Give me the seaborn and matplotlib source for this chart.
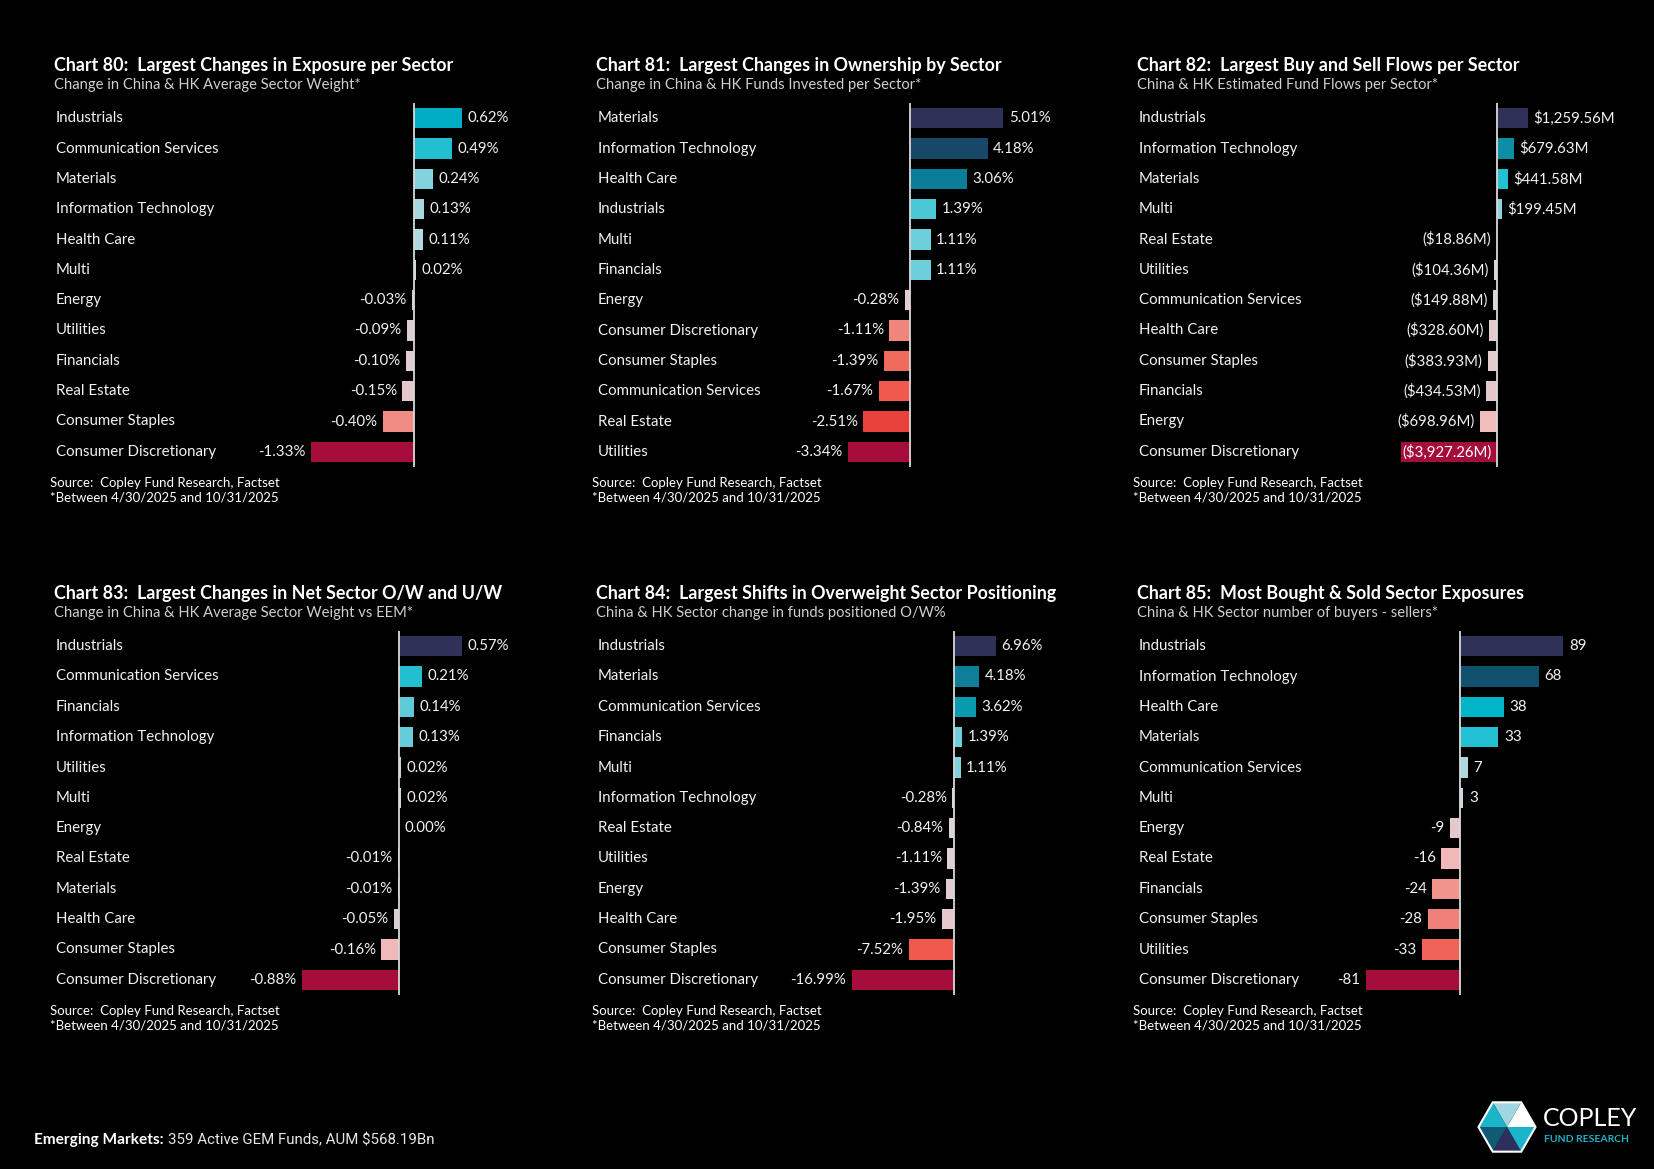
import numpy as np
import pandas as pd
import matplotlib.pyplot as plt
from matplotlib.patches import Polygon
import seaborn as sns

sns.set_theme(style="dark", rc={"axes.facecolor": "black", "figure.facecolor": "black",
                                "text.color": "white"})
plt.rcParams['font.family'] = ['Lato', 'DejaVu Sans']

W, H = 1654, 1169

# Chart 80
c80_sectors = ["Industrials", "Communication Services", "Materials", "Information Technology",
               "Health Care", "Multi", "Energy", "Utilities", "Financials", "Real Estate",
               "Consumer Staples", "Consumer Discretionary"]
c80_values = [0.62, 0.49, 0.24, 0.13, 0.11, 0.02, -0.03, -0.09, -0.10, -0.15, -0.40, -1.33]
c80_colors = ["#00adc3", "#22bfd0", "#84d2de", "#a9d7e0", "#b3dae2", "#c8dde2",
              "#d8d0d4", "#dccdd0", "#dfcdd0", "#e5c8ca", "#f08c84", "#a50d3a"]

# Chart 81
c81_sectors = ["Materials", "Information Technology", "Health Care", "Industrials", "Multi",
               "Financials", "Energy", "Consumer Discretionary", "Consumer Staples",
               "Communication Services", "Real Estate", "Utilities"]
c81_values = [5.01, 4.18, 3.06, 1.39, 1.11, 1.11, -0.28, -1.11, -1.39, -1.67, -2.51, -3.34]
c81_colors = ["#2e3158", "#17486a", "#0a7e98", "#4cc7d6", "#6ccfdb", "#6ccfdb",
              "#e2ccd0", "#f0857c", "#ef6b5c", "#ef5a4c", "#e8403a", "#a50e3a"]

# Chart 82
c82_sectors = ["Industrials", "Information Technology", "Materials", "Multi", "Real Estate",
               "Utilities", "Communication Services", "Health Care", "Consumer Staples",
               "Financials", "Energy", "Consumer Discretionary"]
c82_values = [1259.56, 679.63, 441.58, 199.45, -18.86, -104.36, -149.88, -328.60, -383.93,
              -434.53, -698.96, -3927.26]
c82_colors = ["#2e3158", "#0b8fa6", "#22c0d2", "#8fd3df", "#d4d8dc", "#d8d8dc",
              "#dcd4d8", "#e2ccd0", "#e4ccd0", "#e6c8cc", "#f0bcbc", "#a50e3a"]

# Chart 83
c83_sectors = ["Industrials", "Communication Services", "Financials", "Information Technology",
               "Utilities", "Multi", "Energy", "Real Estate", "Materials", "Health Care",
               "Consumer Staples", "Consumer Discretionary"]
c83_values = [0.57, 0.21, 0.14, 0.13, 0.02, 0.02, 0.00, -0.01, -0.01, -0.05, -0.16, -0.88]
c83_colors = ["#2e3158", "#22bfd0", "#5ecad8", "#66ccd9", "#b8d8e0", "#c0dce2",
              "#d0d8dc", "#d8d4d8", "#d8d4d8", "#dcd0d4", "#f0b8b8", "#a50e3a"]

# Chart 84
c84_sectors = ["Industrials", "Materials", "Communication Services", "Financials", "Multi",
               "Information Technology", "Real Estate", "Utilities", "Energy", "Health Care",
               "Consumer Staples", "Consumer Discretionary"]
c84_values = [6.96, 4.18, 3.62, 1.39, 1.11, -0.28, -0.84, -1.11, -1.39, -1.95, -7.52, -16.99]
c84_colors = ["#2e3158", "#0e7f96", "#0a9ab0", "#6ccfdb", "#80d2dd", "#d8d8dc",
              "#dcd4d8", "#e0d0d4", "#e2ccd0", "#e6c8cc", "#f05a4c", "#a50e3a"]

# Chart 85
c85_sectors = ["Industrials", "Information Technology", "Health Care", "Materials",
               "Communication Services", "Multi", "Energy", "Real Estate", "Financials",
               "Consumer Staples", "Utilities", "Consumer Discretionary"]
c85_values = [89, 68, 38, 33, 7, 3, -9, -16, -24, -28, -33, -81]
c85_colors = ["#2e3158", "#11506e", "#00b5c8", "#22c0d2", "#acd8e0", "#c4dce2",
              "#e6c8cc", "#f0b8b8", "#f0948c", "#f08078", "#ef6458", "#a50e3a"]


def fmt_pct(v):
    return f"{v:.2f}%"


def fmt_usd(v):
    return f"${v:,.2f}M" if v >= 0 else f"(${-v:,.2f}M)"


def fmt_int(v):
    return f"{v:.0f}"


fig = plt.figure(figsize=(W / 100, H / 100), dpi=100)


def draw_chart(x0, y0, zero, scale, title, subtitle, sectors, values, colors, fmt, inside=None):
    top, bottom = y0 + 37, y0 + 401
    left, right = x0 + 2, zero + 120
    ax = fig.add_axes([left / W, 1 - bottom / H, (right - left) / W, (bottom - top) / H])
    df = pd.DataFrame({"sector": sectors, "value": values})
    sns.barplot(data=df, x="value", y="sector", hue="sector", palette=colors, legend=False,
                orient="h", width=0.66, saturation=1, linewidth=0, errorbar=None, ax=ax)
    ax.set_xlim((left - zero) / scale, (right - zero) / scale)
    ax.set_ylim(len(sectors) - 0.5, -0.5)
    ax.axvline(0, color="#d9d9d9", lw=1.3)
    ax.set_axis_off()
    for i, (s, v) in enumerate(zip(sectors, values)):
        ax.text(0, i, s, transform=ax.get_yaxis_transform(), ha="left", va="center",
                fontsize=10.8, color="#f2f2f2")
        if i == inside:
            ax.annotate(fmt(v), (0, i), xytext=(-4, 0), textcoords="offset points",
                        ha="right", va="center", fontsize=10.8, color="white")
        else:
            off = 4 if v >= 0 else -4
            ax.annotate(fmt(v), (v, i), xytext=(off, 0), textcoords="offset points",
                        ha="left" if v >= 0 else "right", va="center", fontsize=10.8,
                        color="#f2f2f2")
    fig.text(x0 / W, 1 - y0 / H, title, fontsize=12.9, fontweight="bold", va="center", ha="left")
    fig.text(x0 / W, 1 - (y0 + 19) / H, subtitle, fontsize=10.6, color="#d0d0d0", va="center")
    fig.text((x0 - 4) / W, 1 - (y0 + 417) / H, "Source:  Copley Fund Research, Factset",
             fontsize=9.5, va="center")
    fig.text((x0 - 4) / W, 1 - (y0 + 431) / H, "*Between 4/30/2025 and 10/31/2025",
             fontsize=9.5, va="center")


draw_chart(54, 66, 414, 77.5, "Chart 80:  Largest Changes in Exposure per Sector",
           "Change in China & HK Average Sector Weight*",
           c80_sectors, c80_values, c80_colors, fmt_pct)
draw_chart(596, 66, 910, 18.6, "Chart 81:  Largest Changes in Ownership by Sector",
           "Change in China & HK Funds Invested per Sector*",
           c81_sectors, c81_values, c81_colors, fmt_pct)
draw_chart(1137, 66, 1497, 0.0244, "Chart 82:  Largest Buy and Sell Flows per Sector",
           "China & HK Estimated Fund Flows per Sector*",
           c82_sectors, c82_values, c82_colors, fmt_usd, inside=11)
draw_chart(54, 594, 399, 110, "Chart 83:  Largest Changes in Net Sector O/W and U/W",
           "Change in China & HK Average Sector Weight vs EEM*",
           c83_sectors, c83_values, c83_colors, fmt_pct)
draw_chart(596, 594, 954, 6.03, "Chart 84:  Largest Shifts in Overweight Sector Positioning",
           "China & HK Sector change in funds positioned O/W%",
           c84_sectors, c84_values, c84_colors, fmt_pct)
draw_chart(1137, 594, 1460, 1.16, "Chart 85:  Most Bought & Sold Sector Exposures",
           "China & HK Sector number of buyers - sellers*",
           c85_sectors, c85_values, c85_colors, fmt_int)

# logo
lax = fig.add_axes([1472 / W, 1 - 1162 / H, 70 / W, 70 / H])
lax.set_xlim(-1.228, 1.228)
lax.set_ylim(-1.228, 1.228)
lax.set_aspect("equal")
lax.set_axis_off()
hex_cols = ["#ffffff", "#9fd6e2", "#1bb5c9", "#105a76", "#2e2f5e", "#1bb5c9"]
ang = np.radians(np.arange(0, 361, 60))
for k in range(6):
    lax.add_patch(Polygon([(0, 0), (np.cos(ang[k]), np.sin(ang[k])),
                           (np.cos(ang[k + 1]), np.sin(ang[k + 1]))],
                          closed=True, facecolor=hex_cols[k], edgecolor="none"))
lax.add_patch(Polygon(np.c_[np.cos(ang[:6]), np.sin(ang[:6])], closed=True,
                      facecolor="none", edgecolor="white", lw=1.5))
fig.text(1543 / W, 1 - 1119 / H, "COPLEY", fontsize=18, color="white", va="center")
fig.text(1544 / W, 1 - 1140 / H, "FUND RESEARCH", fontsize=7.5, fontweight="bold",
         color="#1bb5c9", va="center")

# footer
t = fig.text(34 / W, 1 - 1140 / H, "Emerging Markets:", fontsize=11.1, fontweight="bold",
             va="center")
lax.annotate("359 Active GEM Funds, AUM $568.19Bn", xy=(1, 0.5), xycoords=t, xytext=(3, 0),
             textcoords="offset points", va="center", ha="left", fontsize=10.8,
             family=["Roboto", "DejaVu Sans"], color="#e6e6e6", annotation_clip=False)

fig.savefig("out.png", dpi=100, facecolor="black")
